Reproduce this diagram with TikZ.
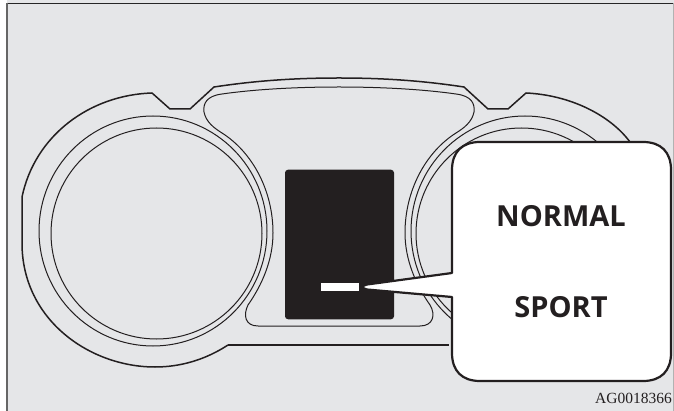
\documentclass[tikz,border=0pt]{standalone}
\usepackage{fontspec}
\setmainfont{Liberation Serif}
\newfontfamily\lab{Open Sans}[BoldFont={Open Sans Bold}]
\definecolor{panel}{HTML}{E5E6E8}
\definecolor{ink}{HTML}{231F20}
\tikzset{
  thin line/.style={draw=ink,line width=1pt},
  thick line/.style={draw=ink,line width=1.5pt},
  modelabel/.style={font=\lab\bfseries\fontsize{29}{29}\selectfont,text=ink,inner sep=0pt},
}
\begin{document}
\begin{tikzpicture}[x=1pt,y=-1pt,line join=round]
\useasboundingbox (0,0) rectangle (674,411);
\fill[white] (0,0) rectangle (674,411);
\fill[panel] (7,0) rectangle (674,411);
\draw[draw=black!85,line width=1.3pt] (7,3.5) -- (674,3.5);
\draw[draw=black!60,line width=1.6pt] (7,2.8) -- (7,411);
\draw[draw=black!30,line width=0.8pt] (673.4,3.5) -- (673.4,411);
% outer housing
\draw[thick line] (228,345) .. controls (205,360) and (180,367) .. (155,367)
  .. controls (90,367) and (22,320) .. (22,243) -- (22,197)
  .. controls (35,135) and (90,95) .. (152,93)
  -- (170,109) -- (190,109) -- (214,87)
  .. controls (260,80) and (300,78) .. (339,78)
  .. controls (378,78) and (418,80) .. (464,87)
  -- (488,109) -- (508,109) -- (526,93)
  .. controls (570,95) and (610,115) .. (630,142);
\draw[thick line] (228,345) -- (449,345);
% window outline
\draw[thin line] (339,87) .. controls (290,87) and (250,90) .. (222,94)
  .. controls (206,96) and (203,104) .. (204,112)
  .. controls (206,122) and (214,128) .. (222,133)
  .. controls (252,152) and (273,190) .. (273,233)
  .. controls (273,260) and (262,285) .. (248,305)
  .. controls (243,315) and (245,326) .. (258,326)
  -- (420,326)
  .. controls (433,326) and (436,315) .. (430,305)
  .. controls (416,285) and (405,260) .. (405,233)
  .. controls (405,190) and (426,152) .. (456,133)
  .. controls (464,128) and (472,122) .. (474,112)
  .. controls (475,104) and (472,96) .. (456,94)
  .. controls (428,90) and (388,87) .. (339,87);
% dials
\draw[thin line] (153,231) ellipse [x radius=114,y radius=115];
\draw[thin line] (156.5,233.5) circle [radius=105.5];
\draw[thin line] (525,231) ellipse [x radius=114,y radius=115];
\draw[thin line] (521.5,233.5) circle [radius=105.5];
% display
\node[fill=ink,rounded corners=3pt,minimum width=109pt,minimum height=149.5pt,inner sep=0pt] (display) at (339.5,244.5) {};
\node[fill=white,minimum width=38pt,minimum height=8pt,inner sep=0pt] (bar) at (340,287) {};
% callout
\path[fill=white,draw=ink,line width=2.2pt,line join=round]
  (452,273) -- (452,170) .. controls (452,152) and (462,142) .. (480,142)
  -- (643,142) .. controls (661,142) and (671,152) .. (671,170)
  -- (671,353) .. controls (671,371) and (661,381) .. (643,381)
  -- (480,381) .. controls (462,381) and (452,371) .. (452,353)
  -- (452,297) -- (367,289.5) .. controls (364,289) and (363,288) .. (363,287)
  .. controls (363,286) and (364,285) .. (367,284.5) -- cycle;
\node[modelabel] (normal) at (561,216) {NORMAL};
\node[modelabel] (sport) at (561,307) {SPORT};
\node[anchor=base east,inner sep=0pt,font=\fontsize{15.5}{15.5}\selectfont,text=ink] (code) at (672,403) {AG0018366};
\end{tikzpicture}
\end{document}
